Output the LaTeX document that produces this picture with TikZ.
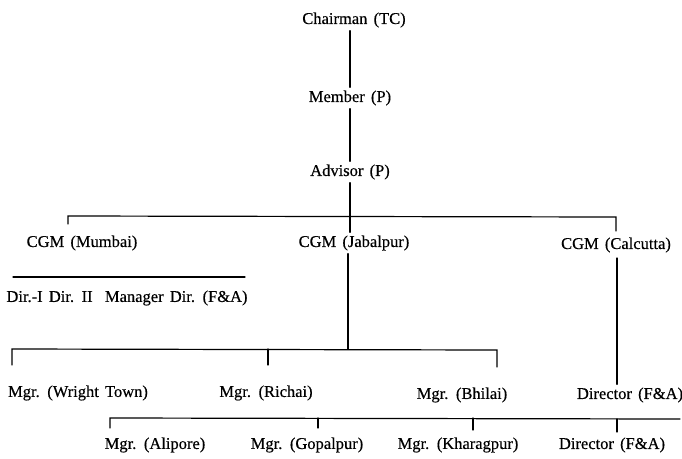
\documentclass[tikz,border=0pt]{standalone}
\usepackage{fontspec}
\setmainfont{Liberation Serif}[WordSpace=1.5, FakeBold=0.4]
\begin{document}
\begin{tikzpicture}[x=1pt,y=-1pt,
  lbl/.style={inner xsep=0pt, inner ysep=3pt, font=\fontsize{16.5}{18}\selectfont},
  ln/.style={line width=1.2pt, line cap=round}]
\useasboundingbox (0,0) rectangle (682,458);
% --- nodes
\node[lbl] (chair)   at (354,20)  {Chairman (TC)};
\node[lbl] (member)  at (350,98)  {Member (P)};
\node[lbl] (advisor) at (350,172) {Advisor (P)};
\node[lbl] (mumbai)  at (82,243)  {CGM (Mumbai)};
\node[lbl] (jabal)   at (354,243) {CGM (Jabalpur)};
\node[lbl] (calc)    at (616,245) {CGM (Calcutta)};
\node[lbl] (dirs)    at (127,298) {Dir.-I Dir. II\ \ Manager Dir. (F\&A)};
\node[lbl] (wright)  at (78,393)  {Mgr. (Wright Town)};
\node[lbl] (richai)  at (266,393) {Mgr. (Richai)};
\node[lbl] (bhilai)  at (462,395) {Mgr. (Bhilai)};
\node[lbl] (dirfa)   at (630,395) {Director (F\&A)};
\node[lbl] (alipore) at (155,445) {Mgr. (Alipore)};
\node[lbl] (gopal)   at (307,445) {Mgr. (Gopalpur)};
\node[lbl] (kharag)  at (458,445) {Mgr. (Kharagpur)};
\node[lbl] (dirfb)   at (612,445) {Director (F\&A)};
% --- bus coordinates
\coordinate (b1L) at (68,216);  \coordinate (b1R) at (616,217);
\coordinate (t1L) at (68,224);  \coordinate (t1R) at (616,231);
\coordinate (uL) at (13,277);   \coordinate (uR) at (245,277);
\coordinate (jv) at (348,349);
\coordinate (b2L) at (12,349);  \coordinate (b2R) at (497,350);
\coordinate (t2L) at (12,365);  \coordinate (t2R) at (497,367);
\coordinate (b2M) at (268,349); \coordinate (t2M) at (268,365);
\coordinate (cv) at (617,258);
\coordinate (b3L) at (110,418); \coordinate (b3R) at (680,419);
\coordinate (t3a) at (110,428);
\coordinate (b3b) at (318,418); \coordinate (t3b) at (318,428);
\coordinate (b3c) at (473,418); \coordinate (t3c) at (473,430);
\coordinate (b3d) at (617,419); \coordinate (t3d) at (617,432);
% --- connectors
\draw[ln] (chair.south -| member) -- (member);
\draw[ln] (member) -- (advisor);
\draw[ln] (advisor.south) -- (advisor.south |- jabal.north);
\draw[ln] (t1L) -- (b1L) -- (b1R) -- (t1R);
\draw[ln] (uL) -- (uR);
\draw[ln] (jabal.south -| jv) -- (jv);
\draw[ln] (t2L) -- (b2L) -- (b2R) -- (t2R);
\draw[ln] (b2M) -- (t2M);
\draw[ln] (cv) -- (cv |- dirfa.north);
\draw[ln] (t3a) -- (b3L) -- (b3R);
\draw[ln] (b3b) -- (t3b);
\draw[ln] (b3c) -- (t3c);
\draw[ln] (b3d) -- (t3d);
\end{tikzpicture}
\end{document}
